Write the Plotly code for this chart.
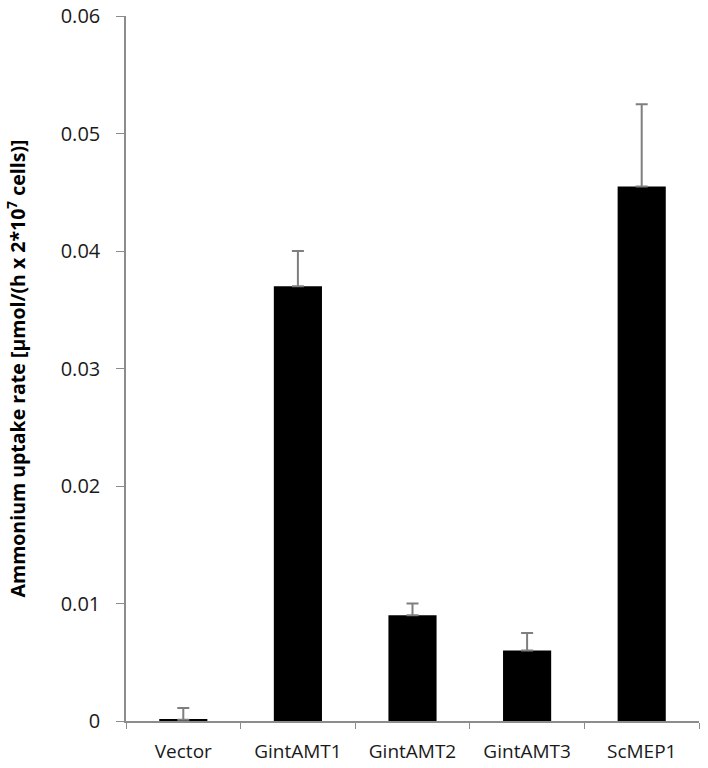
import plotly.graph_objects as go

categories = ['Vector', 'GintAMT1', 'GintAMT2', 'GintAMT3', 'ScMEP1']
uptake_rate = [0.0001, 0.0370, 0.0090, 0.0060, 0.0455]
uptake_err = [0.0010, 0.0030, 0.0010, 0.0015, 0.0070]

y_ticks = [0, 0.01, 0.02, 0.03, 0.04, 0.05, 0.06]
y_ticktext = ['0', '0.01', '0.02', '0.03', '0.04', '0.05', '0.06']

fig = go.Figure([
    go.Bar(
        x=categories, y=uptake_rate,
        marker=dict(color='black', line=dict(width=0)),
        width=0.42,
        error_y=dict(type='data', symmetric=False, array=uptake_err,
                     arrayminus=[0] * len(uptake_err),
                     color='#7f7f7f', thickness=2, width=6),
    )
])

fnt = 'Open Sans, Arial, sans-serif'

fig.update_xaxes(
    type='category', tickson='boundaries', ticks='outside', ticklen=6,
    tickcolor='#8c8c8c', showline=True, linecolor='#8c8c8c', linewidth=1.5,
    tickfont=dict(family=fnt, size=19, color='#1a1a1a'),
    ticklabelstandoff=12, showgrid=False, range=[-0.5, 4.5],
)
fig.update_yaxes(
    range=[0, 0.06], tickvals=y_ticks, ticktext=y_ticktext,
    ticks='outside', ticklen=8, tickcolor='#8c8c8c',
    showline=True, linecolor='#8c8c8c', linewidth=1.5,
    showgrid=False, zeroline=False,
    tickfont=dict(family=fnt, size=20, color='#1a1a1a'),
    ticklabelstandoff=12,
    title=dict(text='<b>Ammonium uptake rate [µmol/(h x 2*10<sup>7</sup> cells)]</b>',
               font=dict(family=fnt, size=19.5, color='black'),
               standoff=30),
)
fig.update_layout(
    width=708, height=768,
    margin=dict(l=126, r=9, t=16, b=47, autoexpand=False),
    plot_bgcolor='white', paper_bgcolor='white',
    showlegend=False,
)

# drop the default 8px page margin so the figure fills the window exactly
fig.write_html("out.html", config={'displayModeBar': False},
               post_script="document.body.style.margin='0';")
